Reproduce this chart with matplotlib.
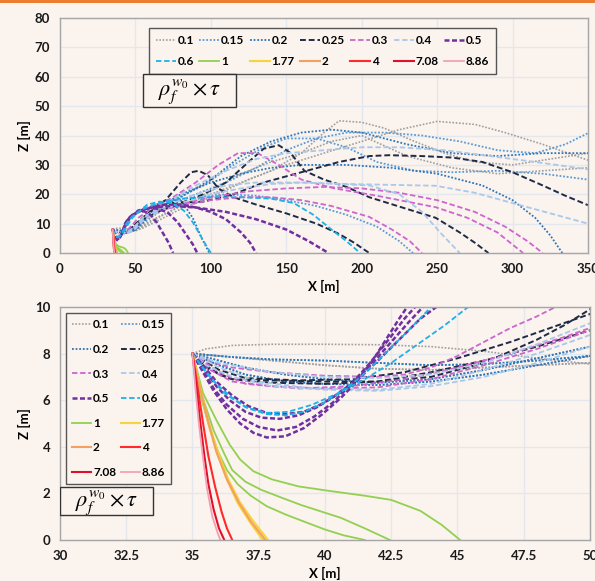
import numpy as np
import matplotlib
matplotlib.use("Agg")
import matplotlib.pyplot as plt
from matplotlib.patches import Rectangle

plt.rcParams['font.family'] = ['Lato', 'DejaVu Sans']
plt.rcParams['mathtext.fontset'] = 'stix'

# legend labels (rho_f^w0 x tau)
labels = ['0.1', '0.15', '0.2', '0.25', '0.3', '0.4', '0.5',
          '0.6', '1', '1.77', '2', '4', '7.08', '8.86']

# near field parts of the trajectories (X, Z)
near_gray_hi = [(35, 8), (35.5, 8.2), (36.5, 8.35), (38, 8.4), (40, 8.4), (42, 8.38), (44, 8.3), (46, 8.1), (48, 7.8), (50, 7.55)]
near_gray_lo = [(35, 8), (36, 7.9), (38, 7.7), (40, 7.5), (42, 7.35), (44, 7.3), (46, 7.4), (48, 7.5), (50, 7.6)]
near_blue_a = [(35, 8), (35.5, 7.95), (36.5, 7.85), (38, 7.75), (40, 7.7), (42, 7.6), (44, 7.5), (46, 7.55), (48, 7.7), (50, 7.9)]
near_blue_b = [(35, 8), (36, 7.7), (37, 7.4), (38.5, 7.1), (40, 6.9), (42, 6.75), (44, 6.9), (46, 7.3), (48, 7.8), (50, 8.3)]
near_blue_c = [(35, 8), (36, 7.5), (37, 7.1), (38.5, 6.8), (40, 6.7), (42, 6.65), (44, 6.8), (46, 7.1), (48, 7.5), (50, 7.9)]
near_blk_a = [(35, 8), (35.5, 7.5), (36, 7.1), (36.5, 6.9), (38, 6.85), (40, 6.8), (42, 6.8), (44, 7.0), (46, 7.6), (47, 8.1), (48, 8.6), (49, 9.2), (50, 9.9)]
near_blk_b = [(35, 8), (35.5, 7.4), (36.5, 6.9), (38, 6.75), (40, 6.7), (42, 6.8), (44, 7.2), (46, 7.7), (48, 8.3), (50, 9.0)]
near_blk_c = [(35, 8), (36, 7.3), (37, 6.95), (39, 6.85), (41, 6.9), (43, 7.2), (45, 7.8), (47, 8.5), (49, 9.3), (50, 9.7)]
near_mag_a = [(35, 8), (35.5, 7.7), (36.5, 7.4), (38, 7.2), (40, 7.05), (42, 7.0), (43, 7.1), (44, 7.4), (45, 7.9), (46, 8.5), (47, 9.1), (48, 9.6), (48.7, 10)]
near_mag_b = [(35, 8), (35.5, 7.4), (36.5, 6.8), (38, 6.6), (40, 6.5), (42, 6.55), (44, 6.9), (46, 7.5), (48, 8.2), (50, 9.0)]
near_mag_c = [(35, 8), (36, 7.2), (37, 6.7), (39, 6.5), (41, 6.6), (43, 6.9), (45, 7.4), (47, 8.0), (49, 8.7), (50, 9.1)]
near_lb_a = [(35, 8), (35.5, 7.5), (36.5, 7.0), (38, 6.6), (40, 6.45), (42, 6.4), (44, 6.6), (46, 7.0), (48, 7.6), (50, 8.3)]
near_lb_b = [(35, 8), (36, 7.4), (37.5, 6.8), (39.5, 6.5), (42, 6.45), (44, 6.7), (46, 7.3), (48, 8.0), (50, 8.8)]
near_lb_c = [(35, 8), (36, 7.6), (38, 7.2), (40, 7.0), (42, 6.95), (44, 7.1), (46, 7.6), (48, 8.4), (50, 9.3)]
near_pur_a = [(35, 8), (35.4, 7.2), (35.8, 6.4), (36.3, 5.6), (36.8, 5.0), (37.3, 4.6), (37.8, 4.4), (38.5, 4.45), (39.2, 4.8), (39.9, 5.4), (40.6, 6.1), (41.2, 6.8), (41.8, 7.7), (42.3, 8.6), (42.8, 9.5), (43.1, 10)]
near_pur_b = [(35, 8), (35.4, 7.4), (35.9, 6.6), (36.4, 6.0), (37, 5.5), (37.6, 5.25), (38.3, 5.2), (39, 5.35), (39.7, 5.7), (40.4, 6.2), (41.1, 6.8), (41.8, 7.6), (42.5, 8.5), (43.2, 9.4), (43.7, 10)]
near_pur_c = [(35, 8), (35.4, 7.5), (35.9, 6.8), (36.5, 6.2), (37.1, 5.75), (37.8, 5.45), (38.5, 5.4), (39.2, 5.5), (39.9, 5.85), (40.6, 6.35), (41.3, 6.95), (42, 7.7), (42.8, 8.6), (43.6, 9.5), (44.2, 10)]
near_pur_d = [(35, 8), (35.4, 7.3), (35.8, 6.5), (36.3, 5.8), (36.9, 5.2), (37.5, 4.85), (38.2, 4.7), (38.9, 4.85), (39.6, 5.3), (40.3, 5.9), (41, 6.7), (41.7, 7.6), (42.4, 8.6), (43, 9.5), (43.4, 10)]
near_cyan_a = [(35, 8), (35.5, 7.2), (36.2, 6.3), (37, 5.7), (37.8, 5.45), (38.6, 5.5), (39.5, 5.8), (40.5, 6.3), (41.5, 6.9), (42.5, 7.6), (43.5, 8.4), (44.5, 9.2), (45.4, 10)]
near_cyan_b = [(35, 8), (35.4, 7.4), (35.9, 6.7), (36.5, 6.1), (37.1, 5.65), (37.8, 5.4), (38.5, 5.35), (39.2, 5.5), (39.9, 5.85), (40.6, 6.35), (41.3, 6.95), (42, 7.7), (42.8, 8.6), (43.5, 9.4), (44, 10)]

tau_0_1 = [
    near_gray_hi + [(55, 9), (65, 12), (80, 16), (100, 20), (120, 24), (140, 28), (160, 34), (175, 41), (185, 45), (200, 44.5), (215, 42.5), (235, 38), (255, 34), (275, 31), (300, 30), (325, 32), (350, 34)],
    near_gray_lo + [(55, 8.5), (65, 11), (80, 15), (100, 19), (125, 25), (150, 30), (175, 34), (200, 38), (225, 42), (250, 44.8), (275, 43.8), (295, 41), (320, 37), (350, 31.6)],
    near_gray_lo + [(60, 11), (80, 16), (100, 21), (120, 27), (140, 31), (160, 34), (180, 38), (200, 40), (230, 33), (260, 29), (290, 27), (320, 28), (350, 29)],
]
tau_0_15 = [
    near_blue_a + [(60, 12), (75, 17), (90, 20), (110, 24), (130, 29), (150, 35), (170, 39), (190, 41), (215, 41), (240, 40), (265, 38), (290, 35), (315, 34), (335, 37), (350, 40.8)],
    near_blue_b + [(60, 13), (75, 18), (95, 23), (115, 30), (135, 36), (150, 39), (170, 39), (190, 36), (210, 31), (235, 28), (260, 27.5), (290, 28), (320, 27), (350, 25)],
    near_blue_c + [(60, 14), (75, 18), (90, 19), (110, 20), (130, 19.5), (150, 18), (170, 16), (190, 13), (210, 9), (225, 4), (234, 0)],
]
tau_0_2 = [
    near_blue_a + [(60, 13), (80, 19), (100, 25), (120, 33), (140, 38), (160, 41), (180, 42), (200, 41), (230, 37), (260, 34), (290, 33), (320, 34), (350, 34)],
    near_blue_b + [(60, 14), (80, 20), (100, 24), (120, 27), (140, 29), (160, 30), (190, 30), (220, 29), (250, 27), (280, 23), (300, 18), (315, 12), (325, 6), (333, 0)],
    near_blue_c + [(55, 12), (62, 16), (70, 18), (80, 18), (88, 12), (94, 5), (99, 0)],
]
tau_0_25 = [
    near_blk_a + [(55, 12), (62, 15), (70, 18), (80, 24), (87, 27.5), (92, 28), (98, 26.5), (105, 22), (115, 19), (130, 16.5), (150, 13.5), (170, 10), (185, 6.5), (195, 3.5), (205, 0)],
    near_blk_b + [(55, 11.5), (65, 14), (80, 17), (95, 20), (110, 24), (125, 31), (135, 35.5), (145, 36.7), (153, 34), (162, 28), (175, 25), (190, 22.5), (205, 19), (230, 15), (249, 12), (265, 7), (275, 3.5), (284, 0)],
    near_blk_c + [(55, 12), (65, 16), (75, 17), (95, 17.5), (115, 20), (135, 24), (160, 27.5), (185, 31), (205, 33), (218, 33.3), (240, 33), (260, 32.5), (280, 31), (300, 27.5), (320, 23), (335, 19.5), (350, 16.3)],
]
tau_0_3 = [
    near_mag_a + [(52, 12), (60, 15), (75, 19), (90, 24), (105, 30), (118, 34), (131, 34), (145, 30), (160, 25), (182, 22), (210, 19.5), (249, 15.6), (270, 12), (290, 7), (307, 0)],
    near_mag_b + [(55, 12), (65, 14.5), (80, 16), (100, 18), (120, 19), (140, 19), (160, 18), (180, 16), (205, 12.3), (220, 8), (232, 4), (240, 0)],
    near_mag_c + [(55, 11.5), (65, 14), (80, 16.5), (100, 19), (125, 21), (150, 22), (175, 22.5), (200, 22), (225, 20.5), (250, 18), (275, 14), (295, 9), (310, 4), (320, 0)],
]
tau_0_4 = [
    near_lb_a + [(55, 11), (65, 14), (80, 17), (100, 20), (120, 22), (140, 23.5), (160, 24), (185, 23.5), (205, 23), (225, 20), (240, 14), (252, 7), (265, 0)],
    near_lb_b + [(55, 12), (70, 16), (90, 20), (110, 23), (130, 24), (160, 24), (190, 23.5), (220, 23.2), (249, 22.9), (275, 20.5), (300, 17), (325, 13.5), (350, 10)],
    near_lb_c + [(55, 12), (70, 17), (90, 23), (110, 28), (130, 32), (150, 34), (175, 35), (200, 36), (225, 36), (255, 35), (285, 33), (315, 31), (350, 28.5)],
]
tau_0_5 = [
    near_pur_a + [(45, 11.5), (48, 13), (52, 14), (56, 14.2), (60, 13), (64, 10.5), (68, 7), (72, 3.5), (75, 0)],
    near_pur_b + [(46, 12), (50, 13.5), (55, 14.8), (60, 15.3), (66, 15), (72, 13.5), (78, 10.5), (84, 6), (88, 3), (91, 0)],
    near_pur_c + [(47, 12.5), (52, 14), (60, 15.5), (70, 16.5), (80, 16.5), (90, 15.5), (100, 14), (110, 11.5), (120, 7), (126, 3.5), (130, 0)],
    near_pur_d + [(46, 12), (52, 14.5), (60, 15.5), (75, 16), (90, 15.5), (110, 14), (130, 11.5), (150, 8), (165, 4), (178, 0)],
]
tau_0_6 = [
    near_cyan_a + [(48, 12), (52, 14), (58, 16.5), (66, 17.5), (74, 17), (82, 14.5), (88, 10.5), (93, 6), (97, 2.5), (100, 0)],
    near_cyan_b + [(48, 12.5), (55, 15), (65, 17), (80, 18.5), (100, 19), (120, 19), (140, 18.5), (155, 17), (168, 13), (180, 8), (190, 4), (199, 0)],
]
tau_1 = [
    [(35, 8), (35.4, 6.3), (35.9, 5.15), (36.4, 4.1), (36.8, 3.45), (37.3, 2.95), (38, 2.6), (39, 2.3), (40.2, 2.1), (41.5, 1.9), (42.5, 1.72), (43.6, 1.25), (44.4, 0.65), (45.1, 0)],
    [(35, 8), (35.3, 6.4), (35.8, 4.7), (36.2, 3.7), (36.5, 3.0), (37, 2.5), (37.6, 2.15), (38.4, 1.8), (39.1, 1.5), (40.6, 0.95), (41.5, 0.5), (42.45, 0)],
    [(35, 8), (35.3, 6.2), (35.7, 4.6), (36, 3.7), (36.3, 3.0), (36.7, 2.4), (37.2, 1.9), (37.8, 1.45), (38.5, 1.1), (39.3, 0.75), (40, 0.45), (40.7, 0.2), (41.5, 0)],
]
tau_1_77 = [
    [(35, 8), (35.3, 6.5), (35.6, 5.1), (35.95, 3.8), (36.35, 2.6), (36.8, 1.6), (37.3, 0.8), (37.85, 0)],
    [(35, 8), (35.3, 6.4), (35.6, 5.0), (35.9, 3.8), (36.3, 2.6), (36.7, 1.6), (37.15, 0.8), (37.65, 0)],
]
tau_2 = [
    [(35, 8), (35.3, 6.45), (35.6, 5.05), (35.9, 3.8), (36.3, 2.6), (36.75, 1.6), (37.2, 0.8), (37.75, 0)],
]
tau_4 = [
    [(35, 8), (35.2, 6.5), (35.4, 5.0), (35.6, 3.6), (35.85, 2.3), (36.1, 1.2), (36.3, 0.5), (36.5, 0)],
]
tau_7_08 = [
    [(35, 8), (35.15, 6.5), (35.3, 5.0), (35.45, 3.6), (35.6, 2.4), (35.8, 1.3), (36.0, 0.5), (36.2, 0)],
]
tau_8_86 = [
    [(35, 8), (35.12, 6.4), (35.25, 4.9), (35.4, 3.5), (35.55, 2.2), (35.75, 1.0), (35.95, 0.3), (36.05, 0)],
]

all_curves = [tau_0_1, tau_0_15, tau_0_2, tau_0_25, tau_0_3, tau_0_4, tau_0_5,
              tau_0_6, tau_1, tau_1_77, tau_2, tau_4, tau_7_08, tau_8_86]

# styles per category: color, linestyle, linewidth
colors = ['#a0a0a0', '#5b9bd5', '#2e75b6', '#1f2a44', '#cc66cc', '#a9c8ea', '#7030a0',
          '#1fb0e8', '#92d050', '#f5d43c', '#f4a062', '#ff2a2a', '#e0102a', '#f4a0b4']
dot = (0, (1, 1))
dash = (0, (3, 1.5))
styles = [dot, dot, dot, dash, dash, dash, (0, (2, 1)),
          dash, '-', '-', '-', '-', '-', '-']
widths = [1.2, 1.3, 1.3, 1.4, 1.3, 1.3, 1.8,
          1.3, 1.3, 1.5, 1.5, 1.5, 1.5, 1.3]

bg = '#faf3ee'
fig = plt.figure(figsize=(5.95, 5.81), dpi=100, facecolor=bg)
ax1 = fig.add_axes([0.1008, 0.5645, 0.8874, 0.4045])
ax2 = fig.add_axes([0.1008, 0.0706, 0.8908, 0.4010])
fig.add_artist(Rectangle((0, 1 - 3 / 581), 1, 3 / 581, transform=fig.transFigure,
                         color='#ed7d31', lw=0))


def draw(ax):
    handles = []
    for curves, c, ls, lw in zip(all_curves, colors, styles, widths):
        h = None
        for cur in curves:
            xs = [p[0] for p in cur]
            zs = [p[1] for p in cur]
            h, = ax.plot(xs, zs, color=c, ls=ls, lw=lw)
        handles.append(h)
    ax.set_facecolor(bg)
    ax.grid(True, color='#e3e8ee', lw=0.9)
    ax.set_axisbelow(True)
    for s in ax.spines.values():
        s.set_color('#a6a6a6')
        s.set_linewidth(1.0)
    ax.tick_params(length=0, labelsize=9.5, pad=7, colors='#1a1a1a')
    for t in ax.get_xticklabels() + ax.get_yticklabels():
        t.set_fontweight('bold')
    ax.set_xlabel('X [m]', fontsize=9.5, fontweight='bold', labelpad=4)
    ax.set_ylabel('Z [m]', fontsize=9.5, fontweight='bold', labelpad=3)
    return handles


def rho_box(ax, x0, y0, x1, y1):
    ax.add_patch(Rectangle((x0, y0), x1 - x0, y1 - y0, transform=ax.transAxes,
                           fc=bg, ec='#333333', lw=1.0, zorder=6))
    ax.text((x0 + x1) / 2, (y0 + y1) / 2 - 0.005, r'$\rho_f^{w_0} \times \tau$',
            transform=ax.transAxes, fontsize=16, ha='center', va='center', zorder=7)


# top panel
ax1.set_xlim(0, 350)
ax1.set_ylim(0, 80)
ax1.set_xticks(np.arange(0, 351, 50))
ax1.set_yticks(np.arange(0, 81, 10))
h1 = draw(ax1)
order = []
for i in range(7):
    order += [i, i + 7]
leg1 = ax1.legend([h1[i] for i in order], [labels[i] for i in order], ncol=7,
                  loc='upper left', bbox_to_anchor=(0.157, 0.983), frameon=True,
                  fancybox=False, edgecolor='#555555', facecolor=bg, framealpha=1,
                  prop={'weight': 'bold', 'size': 8.5}, handlelength=1.7,
                  handletextpad=0.15, columnspacing=0.45, borderpad=0.6,
                  labelspacing=0.85)
leg1.get_frame().set_linewidth(1.0)
rho_box(ax1, 0.157, 0.621, 0.333, 0.762)

# bottom panel (zoom)
ax2.set_xlim(30, 50)
ax2.set_ylim(0, 10)
ax2.set_xticks(np.arange(30, 50.1, 2.5))
ax2.set_xticklabels(['30', '32.5', '35', '37.5', '40', '42.5', '45', '47.5', '50'])
ax2.set_yticks(np.arange(0, 10.1, 2))
h2 = draw(ax2)
order2 = list(range(0, 14, 2)) + list(range(1, 14, 2))
leg2 = ax2.legend([h2[i] for i in order2], [labels[i] for i in order2], ncol=2,
                  loc='upper left', bbox_to_anchor=(0.0, 1.0), frameon=True,
                  fancybox=False, edgecolor='#555555', facecolor=bg, framealpha=1,
                  prop={'weight': 'bold', 'size': 8.5}, handlelength=1.6,
                  handletextpad=0.15, columnspacing=0.4, borderpad=0.55,
                  labelspacing=1.15)
leg2.get_frame().set_linewidth(1.0)
rho_box(ax2, 0.0, 0.107, 0.175, 0.227)

fig.savefig('out.png', dpi=100, facecolor=bg)
